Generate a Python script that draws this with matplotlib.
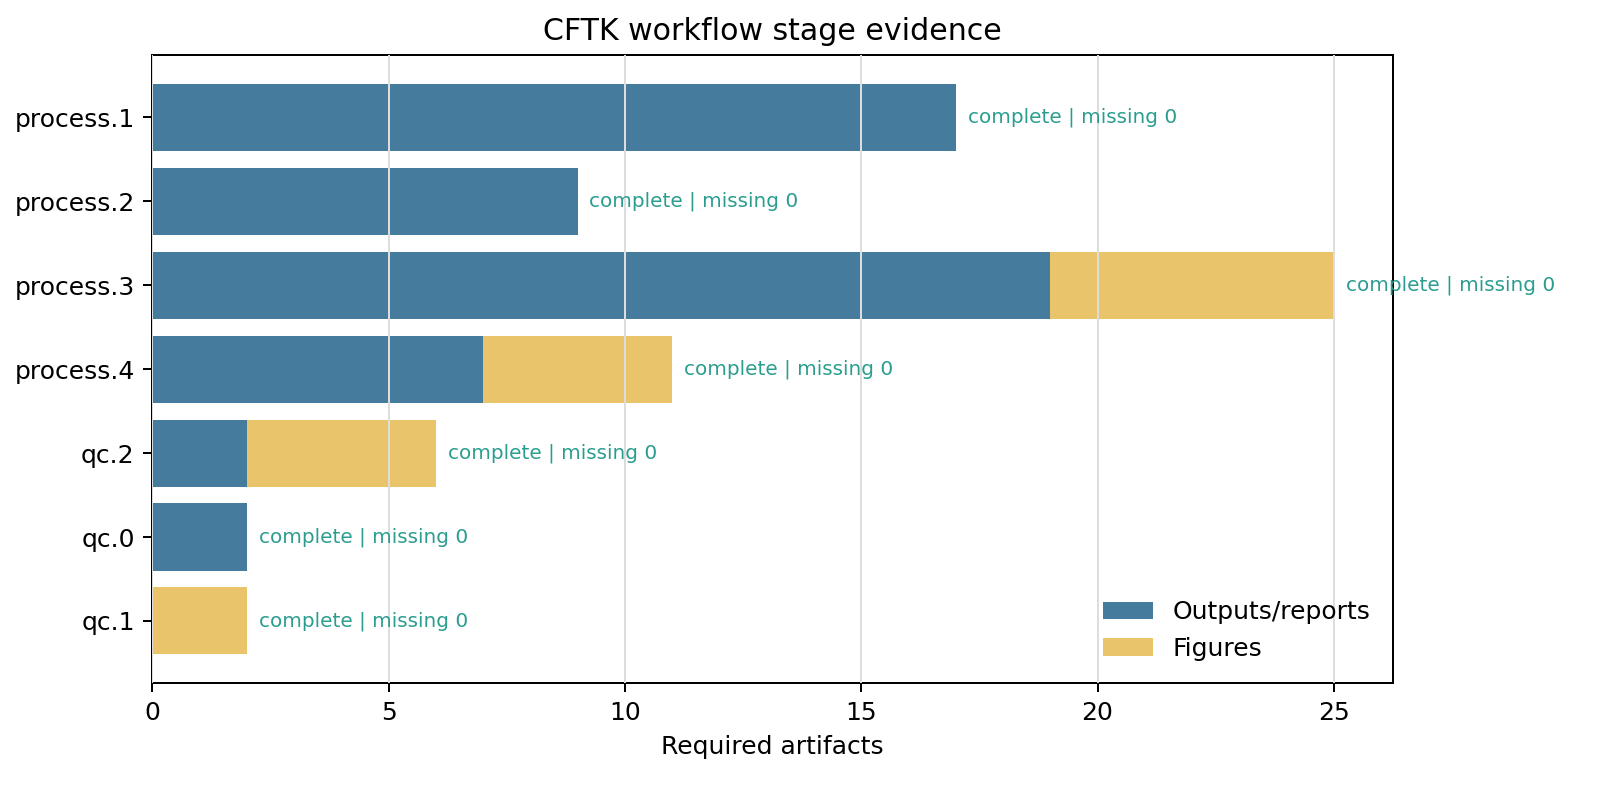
import numpy as np
import matplotlib.pyplot as plt

stages = ['process.1', 'process.2', 'process.3', 'process.4', 'qc.2', 'qc.0', 'qc.1']
outputs = [17, 9, 19, 7, 2, 2, 0]
figures = [0, 0, 6, 4, 4, 0, 2]
missing = [0, 0, 0, 0, 0, 0, 0]

blue = '#457b9d'
yellow = '#e9c46a'
teal = '#2a9d8f'

fig = plt.figure(figsize=(1602 / 180, 791 / 180), dpi=180)
ax = fig.add_axes([0.095, 0.1365, 0.7745, 0.7935])

y = np.arange(len(stages))
out = np.array(outputs)
figs = np.array(figures)
total = out + figs

ax.barh(y, out, height=0.8, color=blue, label='Outputs/reports', zorder=1)
ax.barh(y, figs, left=out, height=0.8, color=yellow, label='Figures', zorder=1)

for yi, t, m in zip(y, total, missing):
    ax.text(t + 0.25, yi, 'complete | missing %d' % m, va='center', ha='left',
            fontsize=8, color=teal)

ax.set_yticks(y)
ax.set_yticklabels(stages, fontsize=10)
ax.invert_yaxis()
ax.set_xlim(0, total.max() * 1.05)
ax.xaxis.grid(True, color='#dddddd', linewidth=0.8, zorder=2)
ax.set_axisbelow(False)
ax.set_xlabel('Required artifacts', fontsize=10)
ax.set_title('CFTK workflow stage evidence', fontsize=12)
ax.legend(loc='lower right', frameon=False, fontsize=10)

fig.savefig('out.png', dpi=180)
